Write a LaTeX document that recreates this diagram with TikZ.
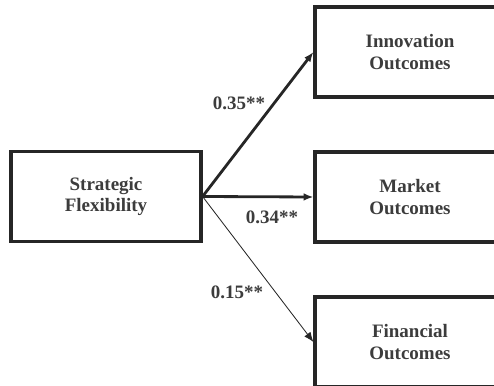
\documentclass[tikz,border=0pt]{standalone}
\usepackage{fontspec}
\setmainfont{Liberation Serif}
\usepackage{tikz}
\usetikzlibrary{positioning,arrows.meta}

\definecolor{boxline}{HTML}{262626}
\definecolor{boxtext}{HTML}{3C3C3C}

\tikzset{
    varbox/.style={draw=boxline,line width=2.2pt,fill=white,minimum width=4.75cm,minimum height=2.25cm,
        align=center,text=boxtext,font=\fontsize{13.5}{15}\selectfont\bfseries},
    coef/.style={text=boxtext,font=\fontsize{13.5}{15}\selectfont\bfseries,inner sep=1pt},
    path/.style={draw=boxline,-{Latex[length=7pt,width=5.5pt]}}
}

\begin{document}
\begin{tikzpicture}[x=0.025cm,y=-0.025cm]
        \useasboundingbox (0,0) rectangle (494,386);
        \clip (0,0) rectangle (494,386);
        % predictor
        \node[varbox] (flex) at (106,196.5) {Strategic\\Flexibility};
        % outcomes
        \node[varbox] (innov) at (410,52) {Innovation\\Outcomes};
        \node[varbox] (market) at (410,197) {Market\\Outcomes};
        \node[varbox] (financ) at (410,342) {Financial\\Outcomes};
        % paths
        \draw[path,line width=2pt] (flex.east) -- (innov.west);
        \draw[path,line width=2pt] (flex.east) -- (market.west);
        \draw[path,line width=0.6pt] (flex.east) -- (financ.west);
        \node[coef] (c1) at (239,103) {0.35**};
        \node[coef] (c2) at (272,217) {0.34**};
        \node[coef] (c3) at (237,292) {0.15**};
    \end{tikzpicture}
\end{document}
